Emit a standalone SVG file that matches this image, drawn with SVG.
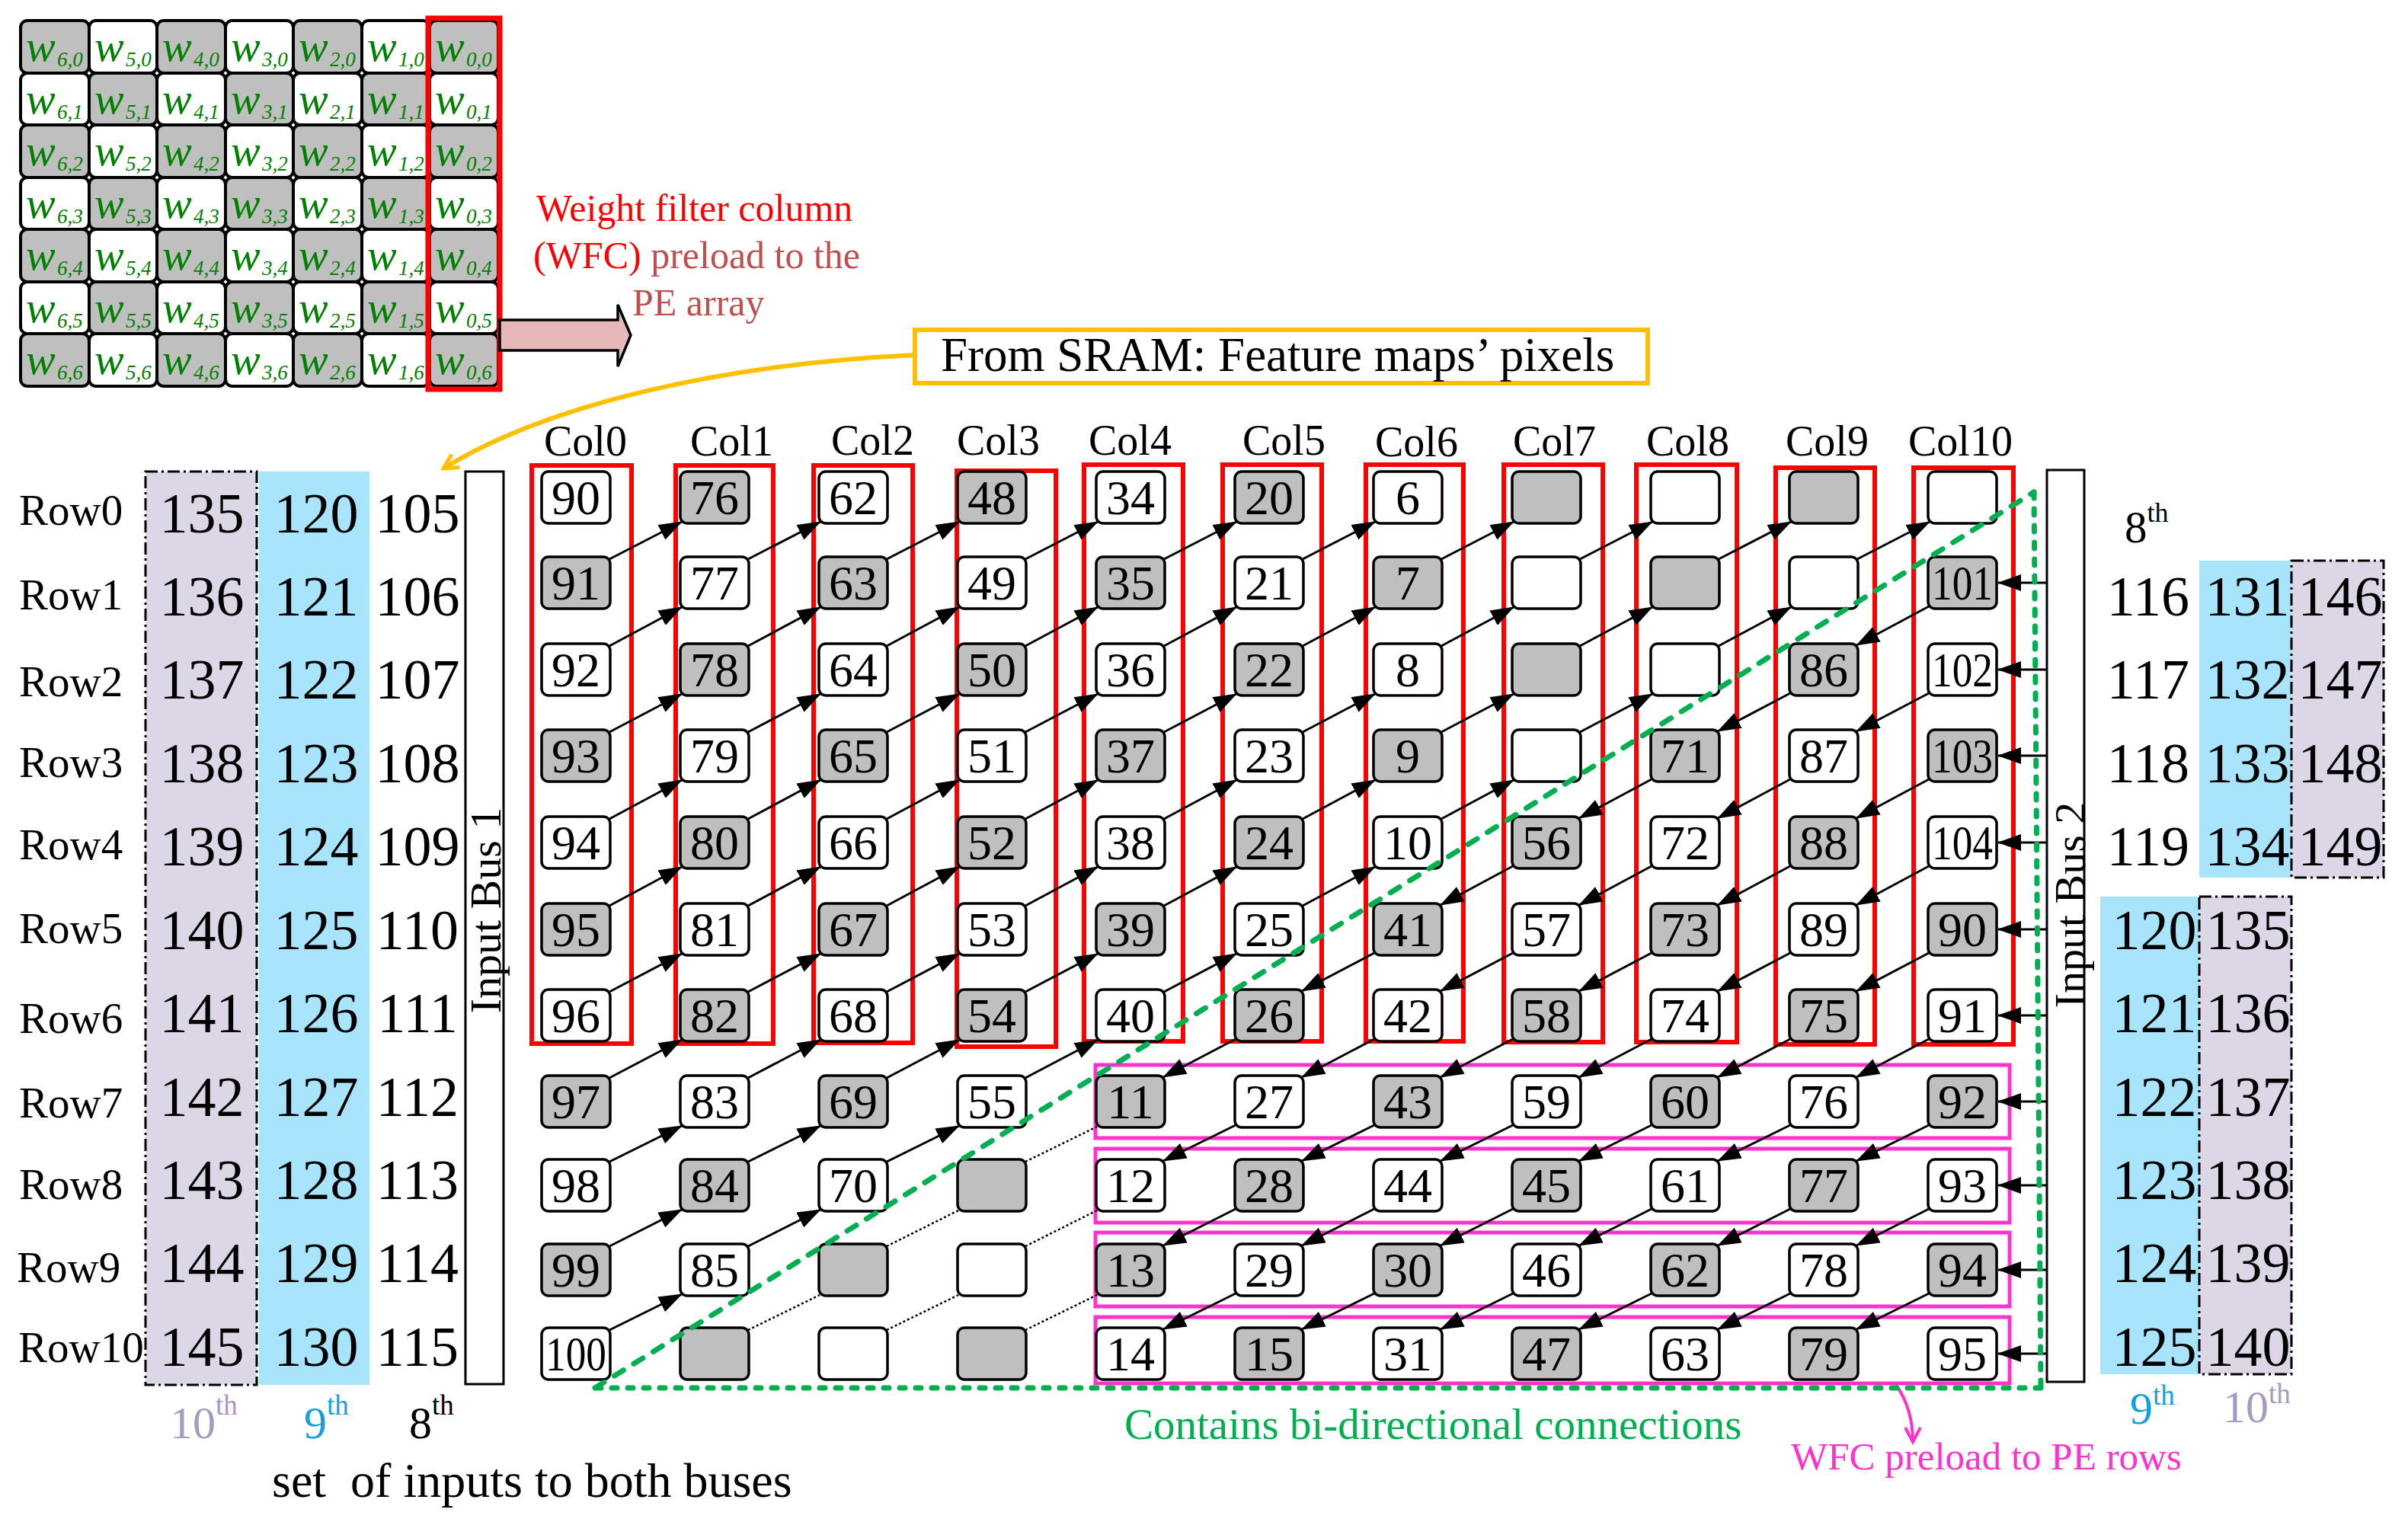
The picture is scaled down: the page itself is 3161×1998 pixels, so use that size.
<svg xmlns="http://www.w3.org/2000/svg" width="3161" height="1998" viewBox="0 0 3161 1998">
<style>
text{font-family:"Liberation Serif","Times New Roman",serif}
.mc{stroke:#000;stroke-width:4}
.mg{fill:#BFBFBF}
.mw{fill:#fff}
.wt{font-style:italic;font-size:58px;fill:#008000}
.sb{font-size:27px}
.w{fill:#fff;stroke:#000;stroke-width:3.5}
.g{fill:#BFBFBF;stroke:#000;stroke-width:3.5}
.pe text{font-size:64px;text-anchor:middle}
.red{fill:none;stroke:#FF0000;stroke-width:6}
.pink{fill:none;stroke:#FF33CC;stroke-width:5}
.ar{stroke:#000;stroke-width:3;marker-end:url(#ah)}
.dt{stroke:#000;stroke-width:2.5;stroke-dasharray:3 3}
.lbl{font-size:57px}
.big{font-size:74px;text-anchor:middle}
.lav{fill:#DCD6E6;stroke:#000;stroke-width:3;stroke-dasharray:16 5 3 5}
.blu{fill:#A8E5FC}
.bus{fill:#fff;stroke:#000;stroke-width:3}
.gr{fill:none;stroke:#00B050;stroke-width:7;stroke-linecap:round}
</style>
<defs>
<marker id="ah" markerUnits="userSpaceOnUse" viewBox="0 0 31 22" markerWidth="31" markerHeight="22" refX="30" refY="11" orient="auto"><path d="M0,0 L31,11 L0,22 z" fill="#000"/></marker>
<marker id="ay" markerUnits="userSpaceOnUse" viewBox="0 0 26 26" markerWidth="26" markerHeight="26" refX="22" refY="13" orient="auto"><path d="M3,3 L22,13 L3,23" fill="none" stroke="#FFC000" stroke-width="5"/></marker>
<marker id="ap" markerUnits="userSpaceOnUse" viewBox="0 0 26 26" markerWidth="26" markerHeight="26" refX="22" refY="13" orient="auto"><path d="M3,3 L22,13 L3,23" fill="none" stroke="#FF33CC" stroke-width="4"/></marker>
</defs>
<rect width="3161" height="1998" fill="#fff"/>

<!-- Weight matrix -->
<g id="weight-matrix">
<g id="w60"><rect class="mc mg" x="27" y="27" width="90" height="69" rx="9"/><text class="wt" x="34" y="80">w<tspan class="sb" x="75" y="87">6,0</tspan></text></g>
<g id="w50"><rect class="mc mw" x="117" y="27" width="89" height="69" rx="9"/><text class="wt" x="124" y="80">w<tspan class="sb" x="165" y="87">5,0</tspan></text></g>
<g id="w40"><rect class="mc mg" x="206" y="27" width="90" height="69" rx="9"/><text class="wt" x="213" y="80">w<tspan class="sb" x="254" y="87">4,0</tspan></text></g>
<g id="w30"><rect class="mc mw" x="296" y="27" width="89" height="69" rx="9"/><text class="wt" x="303" y="80">w<tspan class="sb" x="344" y="87">3,0</tspan></text></g>
<g id="w20"><rect class="mc mg" x="385" y="27" width="90" height="69" rx="9"/><text class="wt" x="392" y="80">w<tspan class="sb" x="433" y="87">2,0</tspan></text></g>
<g id="w10"><rect class="mc mw" x="475" y="27" width="89" height="69" rx="9"/><text class="wt" x="482" y="80">w<tspan class="sb" x="523" y="87">1,0</tspan></text></g>
<g id="w00"><rect class="mc mg" x="564" y="27" width="90" height="69" rx="9"/><text class="wt" x="571" y="80">w<tspan class="sb" x="612" y="87">0,0</tspan></text></g>

<g id="w61"><rect class="mc mw" x="27" y="96" width="90" height="68" rx="9"/><text class="wt" x="34" y="149">w<tspan class="sb" x="75" y="156">6,1</tspan></text></g>
<g id="w51"><rect class="mc mg" x="117" y="96" width="89" height="68" rx="9"/><text class="wt" x="124" y="149">w<tspan class="sb" x="165" y="156">5,1</tspan></text></g>
<g id="w41"><rect class="mc mw" x="206" y="96" width="90" height="68" rx="9"/><text class="wt" x="213" y="149">w<tspan class="sb" x="254" y="156">4,1</tspan></text></g>
<g id="w31"><rect class="mc mg" x="296" y="96" width="89" height="68" rx="9"/><text class="wt" x="303" y="149">w<tspan class="sb" x="344" y="156">3,1</tspan></text></g>
<g id="w21"><rect class="mc mw" x="385" y="96" width="90" height="68" rx="9"/><text class="wt" x="392" y="149">w<tspan class="sb" x="433" y="156">2,1</tspan></text></g>
<g id="w11"><rect class="mc mg" x="475" y="96" width="89" height="68" rx="9"/><text class="wt" x="482" y="149">w<tspan class="sb" x="523" y="156">1,1</tspan></text></g>
<g id="w01"><rect class="mc mw" x="564" y="96" width="90" height="68" rx="9"/><text class="wt" x="571" y="149">w<tspan class="sb" x="612" y="156">0,1</tspan></text></g>

<g id="w62"><rect class="mc mg" x="27" y="164" width="90" height="69" rx="9"/><text class="wt" x="34" y="217">w<tspan class="sb" x="75" y="224">6,2</tspan></text></g>
<g id="w52"><rect class="mc mw" x="117" y="164" width="89" height="69" rx="9"/><text class="wt" x="124" y="217">w<tspan class="sb" x="165" y="224">5,2</tspan></text></g>
<g id="w42"><rect class="mc mg" x="206" y="164" width="90" height="69" rx="9"/><text class="wt" x="213" y="217">w<tspan class="sb" x="254" y="224">4,2</tspan></text></g>
<g id="w32"><rect class="mc mw" x="296" y="164" width="89" height="69" rx="9"/><text class="wt" x="303" y="217">w<tspan class="sb" x="344" y="224">3,2</tspan></text></g>
<g id="w22"><rect class="mc mg" x="385" y="164" width="90" height="69" rx="9"/><text class="wt" x="392" y="217">w<tspan class="sb" x="433" y="224">2,2</tspan></text></g>
<g id="w12"><rect class="mc mw" x="475" y="164" width="89" height="69" rx="9"/><text class="wt" x="482" y="217">w<tspan class="sb" x="523" y="224">1,2</tspan></text></g>
<g id="w02"><rect class="mc mg" x="564" y="164" width="90" height="69" rx="9"/><text class="wt" x="571" y="217">w<tspan class="sb" x="612" y="224">0,2</tspan></text></g>

<g id="w63"><rect class="mc mw" x="27" y="233" width="90" height="68" rx="9"/><text class="wt" x="34" y="286">w<tspan class="sb" x="75" y="293">6,3</tspan></text></g>
<g id="w53"><rect class="mc mg" x="117" y="233" width="89" height="68" rx="9"/><text class="wt" x="124" y="286">w<tspan class="sb" x="165" y="293">5,3</tspan></text></g>
<g id="w43"><rect class="mc mw" x="206" y="233" width="90" height="68" rx="9"/><text class="wt" x="213" y="286">w<tspan class="sb" x="254" y="293">4,3</tspan></text></g>
<g id="w33"><rect class="mc mg" x="296" y="233" width="89" height="68" rx="9"/><text class="wt" x="303" y="286">w<tspan class="sb" x="344" y="293">3,3</tspan></text></g>
<g id="w23"><rect class="mc mw" x="385" y="233" width="90" height="68" rx="9"/><text class="wt" x="392" y="286">w<tspan class="sb" x="433" y="293">2,3</tspan></text></g>
<g id="w13"><rect class="mc mg" x="475" y="233" width="89" height="68" rx="9"/><text class="wt" x="482" y="286">w<tspan class="sb" x="523" y="293">1,3</tspan></text></g>
<g id="w03"><rect class="mc mw" x="564" y="233" width="90" height="68" rx="9"/><text class="wt" x="571" y="286">w<tspan class="sb" x="612" y="293">0,3</tspan></text></g>

<g id="w64"><rect class="mc mg" x="27" y="301" width="90" height="69" rx="9"/><text class="wt" x="34" y="354">w<tspan class="sb" x="75" y="361">6,4</tspan></text></g>
<g id="w54"><rect class="mc mw" x="117" y="301" width="89" height="69" rx="9"/><text class="wt" x="124" y="354">w<tspan class="sb" x="165" y="361">5,4</tspan></text></g>
<g id="w44"><rect class="mc mg" x="206" y="301" width="90" height="69" rx="9"/><text class="wt" x="213" y="354">w<tspan class="sb" x="254" y="361">4,4</tspan></text></g>
<g id="w34"><rect class="mc mw" x="296" y="301" width="89" height="69" rx="9"/><text class="wt" x="303" y="354">w<tspan class="sb" x="344" y="361">3,4</tspan></text></g>
<g id="w24"><rect class="mc mg" x="385" y="301" width="90" height="69" rx="9"/><text class="wt" x="392" y="354">w<tspan class="sb" x="433" y="361">2,4</tspan></text></g>
<g id="w14"><rect class="mc mw" x="475" y="301" width="89" height="69" rx="9"/><text class="wt" x="482" y="354">w<tspan class="sb" x="523" y="361">1,4</tspan></text></g>
<g id="w04"><rect class="mc mg" x="564" y="301" width="90" height="69" rx="9"/><text class="wt" x="571" y="354">w<tspan class="sb" x="612" y="361">0,4</tspan></text></g>

<g id="w65"><rect class="mc mw" x="27" y="370" width="90" height="68" rx="9"/><text class="wt" x="34" y="423">w<tspan class="sb" x="75" y="430">6,5</tspan></text></g>
<g id="w55"><rect class="mc mg" x="117" y="370" width="89" height="68" rx="9"/><text class="wt" x="124" y="423">w<tspan class="sb" x="165" y="430">5,5</tspan></text></g>
<g id="w45"><rect class="mc mw" x="206" y="370" width="90" height="68" rx="9"/><text class="wt" x="213" y="423">w<tspan class="sb" x="254" y="430">4,5</tspan></text></g>
<g id="w35"><rect class="mc mg" x="296" y="370" width="89" height="68" rx="9"/><text class="wt" x="303" y="423">w<tspan class="sb" x="344" y="430">3,5</tspan></text></g>
<g id="w25"><rect class="mc mw" x="385" y="370" width="90" height="68" rx="9"/><text class="wt" x="392" y="423">w<tspan class="sb" x="433" y="430">2,5</tspan></text></g>
<g id="w15"><rect class="mc mg" x="475" y="370" width="89" height="68" rx="9"/><text class="wt" x="482" y="423">w<tspan class="sb" x="523" y="430">1,5</tspan></text></g>
<g id="w05"><rect class="mc mw" x="564" y="370" width="90" height="68" rx="9"/><text class="wt" x="571" y="423">w<tspan class="sb" x="612" y="430">0,5</tspan></text></g>

<g id="w66"><rect class="mc mg" x="27" y="438" width="90" height="69" rx="9"/><text class="wt" x="34" y="491">w<tspan class="sb" x="75" y="498">6,6</tspan></text></g>
<g id="w56"><rect class="mc mw" x="117" y="438" width="89" height="69" rx="9"/><text class="wt" x="124" y="491">w<tspan class="sb" x="165" y="498">5,6</tspan></text></g>
<g id="w46"><rect class="mc mg" x="206" y="438" width="90" height="69" rx="9"/><text class="wt" x="213" y="491">w<tspan class="sb" x="254" y="498">4,6</tspan></text></g>
<g id="w36"><rect class="mc mw" x="296" y="438" width="89" height="69" rx="9"/><text class="wt" x="303" y="491">w<tspan class="sb" x="344" y="498">3,6</tspan></text></g>
<g id="w26"><rect class="mc mg" x="385" y="438" width="90" height="69" rx="9"/><text class="wt" x="392" y="491">w<tspan class="sb" x="433" y="498">2,6</tspan></text></g>
<g id="w16"><rect class="mc mw" x="475" y="438" width="89" height="69" rx="9"/><text class="wt" x="482" y="491">w<tspan class="sb" x="523" y="498">1,6</tspan></text></g>
<g id="w06"><rect class="mc mg" x="564" y="438" width="90" height="69" rx="9"/><text class="wt" x="571" y="491">w<tspan class="sb" x="612" y="498">0,6</tspan></text></g>
<rect id="wfc-highlight" x="562" y="24" width="94" height="487" fill="none" stroke="#FF0000" stroke-width="7"/>
</g>

<g id="wfc-arrow">
<polygon points="656,420 811,420 811,400 828,440 811,481 811,460 656,460" fill="#E6B9B8" stroke="#000" stroke-width="3.5"/>
</g>
<g id="wfc-label" font-size="50">
<text x="704" y="290" fill="#FF0000" font-size="50">Weight filter column</text>
<text x="700" y="352" font-size="50"><tspan fill="#FF0000">(WFC)</tspan><tspan fill="#C0504D"> preload to the</tspan></text>
<text x="830" y="414" fill="#C0504D" font-size="50">PE array</text>
</g>

<g id="sram">
<rect x="1201" y="433" width="962" height="70" fill="#fff" stroke="#FFC000" stroke-width="6"/>
<text x="1235" y="487" font-size="63">From SRAM: Feature maps’ pixels</text>
</g>

<!-- left input sets -->
<g id="left-sets">
<rect class="lav" x="191" y="619" width="146" height="1199"/>
<rect class="blu" x="340" y="619" width="145" height="1199"/>
<g class="big">
<text x="265" y="699">135</text><text x="415" y="699">120</text><text x="548" y="699">105</text>
<text x="265" y="808">136</text><text x="415" y="808">121</text><text x="548" y="808">106</text>
<text x="265" y="917">137</text><text x="415" y="917">122</text><text x="548" y="917">107</text>
<text x="265" y="1027">138</text><text x="415" y="1027">123</text><text x="548" y="1027">108</text>
<text x="265" y="1136">139</text><text x="415" y="1136">124</text><text x="548" y="1136">109</text>
<text x="265" y="1246">140</text><text x="415" y="1246">125</text><text x="548" y="1246">110</text>
<text x="265" y="1355">141</text><text x="415" y="1355">126</text><text x="548" y="1355">111</text>
<text x="265" y="1465">142</text><text x="415" y="1465">127</text><text x="548" y="1465">112</text>
<text x="265" y="1574">143</text><text x="415" y="1574">128</text><text x="548" y="1574">113</text>
<text x="265" y="1683">144</text><text x="415" y="1683">129</text><text x="548" y="1683">114</text>
<text x="265" y="1793">145</text><text x="415" y="1793">130</text><text x="548" y="1793">115</text>
</g>
<text x="223" y="1888" font-size="60" fill="#A59AC2">10<tspan font-size="37" y="1857">th</tspan></text>
<text x="399" y="1888" font-size="60" fill="#15A0DB">9<tspan font-size="37" y="1857">th</tspan></text>
<text x="537" y="1888" font-size="60">8<tspan font-size="37" y="1857">th</tspan></text>
<text x="357" y="1965" font-size="64" xml:space="preserve">set  of inputs to both buses</text>
</g>

<g id="row-labels" class="lbl">
<text x="25" y="689">Row0</text><text x="25" y="800">Row1</text><text x="25" y="914">Row2</text>
<text x="25" y="1020">Row3</text><text x="25" y="1128">Row4</text><text x="25" y="1238">Row5</text>
<text x="25" y="1356">Row6</text><text x="25" y="1467">Row7</text><text x="25" y="1574">Row8</text>
<text x="22" y="1683">Row9</text><text x="24" y="1788">Row10</text>
</g>

<g id="col-labels" font-size="56">
<text x="714" y="598">Col0</text><text x="906" y="598">Col1</text><text x="1091" y="597">Col2</text>
<text x="1256" y="597">Col3</text><text x="1429" y="597">Col4</text><text x="1631" y="597">Col5</text>
<text x="1805" y="599">Col6</text><text x="1986" y="598">Col7</text><text x="2161" y="598">Col8</text>
<text x="2344" y="598">Col9</text><text x="2505" y="598">Col10</text>
</g>

<!-- right input sets -->
<g id="right-sets">
<text x="2789" y="712" font-size="59">8<tspan font-size="36" y="685">th</tspan></text>
<rect class="blu" x="2887" y="736" width="121" height="416"/>
<rect class="lav" x="3008" y="736" width="121" height="416"/>
<rect class="blu" x="2757" y="1177" width="130" height="627"/>
<rect class="lav" x="2887" y="1177" width="121" height="627"/>
<g class="big">
<text x="2820" y="808">116</text><text x="2950" y="808">131</text><text x="3072" y="808">146</text>
<text x="2820" y="917">117</text><text x="2950" y="917">132</text><text x="3072" y="917">147</text>
<text x="2820" y="1027">118</text><text x="2950" y="1027">133</text><text x="3072" y="1027">148</text>
<text x="2820" y="1136">119</text><text x="2950" y="1136">134</text><text x="3072" y="1136">149</text>
<text x="2828" y="1246">120</text><text x="2951" y="1246">135</text>
<text x="2828" y="1355">121</text><text x="2951" y="1355">136</text>
<text x="2828" y="1465">122</text><text x="2951" y="1465">137</text>
<text x="2828" y="1574">123</text><text x="2951" y="1574">138</text>
<text x="2828" y="1683">124</text><text x="2951" y="1683">139</text>
<text x="2828" y="1793">125</text><text x="2951" y="1793">140</text>
</g>
<text x="2796" y="1869" font-size="60" fill="#15A0DB">9<tspan font-size="37" y="1844">th</tspan></text>
<text x="2918" y="1867" font-size="60" fill="#A59AC2">10<tspan font-size="37" y="1842">th</tspan></text>
</g>

<g id="bus1"><rect class="bus" x="611" y="619" width="50" height="1198"/><text transform="translate(657,1195) rotate(-90)" text-anchor="middle" font-size="58">Input Bus 1</text></g>
<g id="bus2"><rect class="bus" x="2687" y="617" width="49" height="1197"/><text transform="translate(2737,1188) rotate(-90)" text-anchor="middle" font-size="58">Input Bus 2</text></g>

<!-- column and row highlight frames -->
<g id="wfc-columns">
<rect class="red" x="698" y="611" width="131" height="759"/>
<rect class="red" x="887" y="611" width="128" height="759"/>
<rect class="red" x="1068" y="611" width="130" height="758"/>
<rect class="red" x="1256" y="618" width="130" height="756"/>
<rect class="red" x="1423" y="610" width="130" height="757"/>
<rect class="red" x="1605" y="610" width="130" height="757"/>
<rect class="red" x="1793" y="610" width="128" height="757"/>
<rect class="red" x="1974" y="610" width="130" height="758"/>
<rect class="red" x="2148" y="610" width="132" height="758"/>
<rect class="red" x="2331" y="614" width="130" height="757"/>
<rect class="red" x="2512" y="614" width="131" height="757"/>
</g>
<g id="wfc-rows">
<rect class="pink" x="1438" y="1398" width="1200" height="96"/>
<rect class="pink" x="1438" y="1508" width="1200" height="97"/>
<rect class="pink" x="1438" y="1618" width="1200" height="97"/>
<rect class="pink" x="1438" y="1729" width="1200" height="87"/>
</g>

<!-- PE nodes -->
<g id="pe-array" class="pe">
<g id="pe-r0c0"><rect class="w" x="711" y="619" width="90" height="68" rx="9"/><text x="756" y="675">90</text></g>
<g id="pe-r1c0"><rect class="g" x="711" y="731" width="90" height="68" rx="9"/><text x="756" y="787">91</text></g>
<g id="pe-r2c0"><rect class="w" x="711" y="845" width="90" height="68" rx="9"/><text x="756" y="901">92</text></g>
<g id="pe-r3c0"><rect class="g" x="711" y="958" width="90" height="68" rx="9"/><text x="756" y="1014">93</text></g>
<g id="pe-r4c0"><rect class="w" x="711" y="1072" width="90" height="68" rx="9"/><text x="756" y="1128">94</text></g>
<g id="pe-r5c0"><rect class="g" x="711" y="1186" width="90" height="68" rx="9"/><text x="756" y="1242">95</text></g>
<g id="pe-r6c0"><rect class="w" x="711" y="1299" width="90" height="68" rx="9"/><text x="756" y="1355">96</text></g>
<g id="pe-r7c0"><rect class="g" x="711" y="1412" width="90" height="68" rx="9"/><text x="756" y="1468">97</text></g>
<g id="pe-r8c0"><rect class="w" x="711" y="1522" width="90" height="68" rx="9"/><text x="756" y="1578">98</text></g>
<g id="pe-r9c0"><rect class="g" x="711" y="1633" width="90" height="68" rx="9"/><text x="756" y="1689">99</text></g>
<g id="pe-r10c0"><rect class="w" x="711" y="1743" width="90" height="68" rx="9"/><text x="756" y="1799" textLength="80" lengthAdjust="spacingAndGlyphs">100</text></g>

<g id="pe-r0c1"><rect class="g" x="893" y="619" width="90" height="68" rx="9"/><text x="938" y="675">76</text></g>
<g id="pe-r1c1"><rect class="w" x="893" y="731" width="90" height="68" rx="9"/><text x="938" y="787">77</text></g>
<g id="pe-r2c1"><rect class="g" x="893" y="845" width="90" height="68" rx="9"/><text x="938" y="901">78</text></g>
<g id="pe-r3c1"><rect class="w" x="893" y="958" width="90" height="68" rx="9"/><text x="938" y="1014">79</text></g>
<g id="pe-r4c1"><rect class="g" x="893" y="1072" width="90" height="68" rx="9"/><text x="938" y="1128">80</text></g>
<g id="pe-r5c1"><rect class="w" x="893" y="1186" width="90" height="68" rx="9"/><text x="938" y="1242">81</text></g>
<g id="pe-r6c1"><rect class="g" x="893" y="1299" width="90" height="68" rx="9"/><text x="938" y="1355">82</text></g>
<g id="pe-r7c1"><rect class="w" x="893" y="1412" width="90" height="68" rx="9"/><text x="938" y="1468">83</text></g>
<g id="pe-r8c1"><rect class="g" x="893" y="1522" width="90" height="68" rx="9"/><text x="938" y="1578">84</text></g>
<g id="pe-r9c1"><rect class="w" x="893" y="1633" width="90" height="68" rx="9"/><text x="938" y="1689">85</text></g>
<g id="pe-r10c1"><rect class="g" x="893" y="1743" width="90" height="68" rx="9"/></g>

<g id="pe-r0c2"><rect class="w" x="1075" y="619" width="90" height="68" rx="9"/><text x="1120" y="675">62</text></g>
<g id="pe-r1c2"><rect class="g" x="1075" y="731" width="90" height="68" rx="9"/><text x="1120" y="787">63</text></g>
<g id="pe-r2c2"><rect class="w" x="1075" y="845" width="90" height="68" rx="9"/><text x="1120" y="901">64</text></g>
<g id="pe-r3c2"><rect class="g" x="1075" y="958" width="90" height="68" rx="9"/><text x="1120" y="1014">65</text></g>
<g id="pe-r4c2"><rect class="w" x="1075" y="1072" width="90" height="68" rx="9"/><text x="1120" y="1128">66</text></g>
<g id="pe-r5c2"><rect class="g" x="1075" y="1186" width="90" height="68" rx="9"/><text x="1120" y="1242">67</text></g>
<g id="pe-r6c2"><rect class="w" x="1075" y="1299" width="90" height="68" rx="9"/><text x="1120" y="1355">68</text></g>
<g id="pe-r7c2"><rect class="g" x="1075" y="1412" width="90" height="68" rx="9"/><text x="1120" y="1468">69</text></g>
<g id="pe-r8c2"><rect class="w" x="1075" y="1522" width="90" height="68" rx="9"/><text x="1120" y="1578">70</text></g>
<g id="pe-r9c2"><rect class="g" x="1075" y="1633" width="90" height="68" rx="9"/></g>
<g id="pe-r10c2"><rect class="w" x="1075" y="1743" width="90" height="68" rx="9"/></g>

<g id="pe-r0c3"><rect class="g" x="1257" y="619" width="90" height="68" rx="9"/><text x="1302" y="675">48</text></g>
<g id="pe-r1c3"><rect class="w" x="1257" y="731" width="90" height="68" rx="9"/><text x="1302" y="787">49</text></g>
<g id="pe-r2c3"><rect class="g" x="1257" y="845" width="90" height="68" rx="9"/><text x="1302" y="901">50</text></g>
<g id="pe-r3c3"><rect class="w" x="1257" y="958" width="90" height="68" rx="9"/><text x="1302" y="1014">51</text></g>
<g id="pe-r4c3"><rect class="g" x="1257" y="1072" width="90" height="68" rx="9"/><text x="1302" y="1128">52</text></g>
<g id="pe-r5c3"><rect class="w" x="1257" y="1186" width="90" height="68" rx="9"/><text x="1302" y="1242">53</text></g>
<g id="pe-r6c3"><rect class="g" x="1257" y="1299" width="90" height="68" rx="9"/><text x="1302" y="1355">54</text></g>
<g id="pe-r7c3"><rect class="w" x="1257" y="1412" width="90" height="68" rx="9"/><text x="1302" y="1468">55</text></g>
<g id="pe-r8c3"><rect class="g" x="1257" y="1522" width="90" height="68" rx="9"/></g>
<g id="pe-r9c3"><rect class="w" x="1257" y="1633" width="90" height="68" rx="9"/></g>
<g id="pe-r10c3"><rect class="g" x="1257" y="1743" width="90" height="68" rx="9"/></g>

<g id="pe-r0c4"><rect class="w" x="1439" y="619" width="90" height="68" rx="9"/><text x="1484" y="675">34</text></g>
<g id="pe-r1c4"><rect class="g" x="1439" y="731" width="90" height="68" rx="9"/><text x="1484" y="787">35</text></g>
<g id="pe-r2c4"><rect class="w" x="1439" y="845" width="90" height="68" rx="9"/><text x="1484" y="901">36</text></g>
<g id="pe-r3c4"><rect class="g" x="1439" y="958" width="90" height="68" rx="9"/><text x="1484" y="1014">37</text></g>
<g id="pe-r4c4"><rect class="w" x="1439" y="1072" width="90" height="68" rx="9"/><text x="1484" y="1128">38</text></g>
<g id="pe-r5c4"><rect class="g" x="1439" y="1186" width="90" height="68" rx="9"/><text x="1484" y="1242">39</text></g>
<g id="pe-r6c4"><rect class="w" x="1439" y="1299" width="90" height="68" rx="9"/><text x="1484" y="1355">40</text></g>
<g id="pe-r7c4"><rect class="g" x="1439" y="1412" width="90" height="68" rx="9"/><text x="1484" y="1468">11</text></g>
<g id="pe-r8c4"><rect class="w" x="1439" y="1522" width="90" height="68" rx="9"/><text x="1484" y="1578">12</text></g>
<g id="pe-r9c4"><rect class="g" x="1439" y="1633" width="90" height="68" rx="9"/><text x="1484" y="1689">13</text></g>
<g id="pe-r10c4"><rect class="w" x="1439" y="1743" width="90" height="68" rx="9"/><text x="1484" y="1799">14</text></g>

<g id="pe-r0c5"><rect class="g" x="1621" y="619" width="90" height="68" rx="9"/><text x="1666" y="675">20</text></g>
<g id="pe-r1c5"><rect class="w" x="1621" y="731" width="90" height="68" rx="9"/><text x="1666" y="787">21</text></g>
<g id="pe-r2c5"><rect class="g" x="1621" y="845" width="90" height="68" rx="9"/><text x="1666" y="901">22</text></g>
<g id="pe-r3c5"><rect class="w" x="1621" y="958" width="90" height="68" rx="9"/><text x="1666" y="1014">23</text></g>
<g id="pe-r4c5"><rect class="g" x="1621" y="1072" width="90" height="68" rx="9"/><text x="1666" y="1128">24</text></g>
<g id="pe-r5c5"><rect class="w" x="1621" y="1186" width="90" height="68" rx="9"/><text x="1666" y="1242">25</text></g>
<g id="pe-r6c5"><rect class="g" x="1621" y="1299" width="90" height="68" rx="9"/><text x="1666" y="1355">26</text></g>
<g id="pe-r7c5"><rect class="w" x="1621" y="1412" width="90" height="68" rx="9"/><text x="1666" y="1468">27</text></g>
<g id="pe-r8c5"><rect class="g" x="1621" y="1522" width="90" height="68" rx="9"/><text x="1666" y="1578">28</text></g>
<g id="pe-r9c5"><rect class="w" x="1621" y="1633" width="90" height="68" rx="9"/><text x="1666" y="1689">29</text></g>
<g id="pe-r10c5"><rect class="g" x="1621" y="1743" width="90" height="68" rx="9"/><text x="1666" y="1799">15</text></g>

<g id="pe-r0c6"><rect class="w" x="1803" y="619" width="90" height="68" rx="9"/><text x="1848" y="675">6</text></g>
<g id="pe-r1c6"><rect class="g" x="1803" y="731" width="90" height="68" rx="9"/><text x="1848" y="787">7</text></g>
<g id="pe-r2c6"><rect class="w" x="1803" y="845" width="90" height="68" rx="9"/><text x="1848" y="901">8</text></g>
<g id="pe-r3c6"><rect class="g" x="1803" y="958" width="90" height="68" rx="9"/><text x="1848" y="1014">9</text></g>
<g id="pe-r4c6"><rect class="w" x="1803" y="1072" width="90" height="68" rx="9"/><text x="1848" y="1128">10</text></g>
<g id="pe-r5c6"><rect class="g" x="1803" y="1186" width="90" height="68" rx="9"/><text x="1848" y="1242">41</text></g>
<g id="pe-r6c6"><rect class="w" x="1803" y="1299" width="90" height="68" rx="9"/><text x="1848" y="1355">42</text></g>
<g id="pe-r7c6"><rect class="g" x="1803" y="1412" width="90" height="68" rx="9"/><text x="1848" y="1468">43</text></g>
<g id="pe-r8c6"><rect class="w" x="1803" y="1522" width="90" height="68" rx="9"/><text x="1848" y="1578">44</text></g>
<g id="pe-r9c6"><rect class="g" x="1803" y="1633" width="90" height="68" rx="9"/><text x="1848" y="1689">30</text></g>
<g id="pe-r10c6"><rect class="w" x="1803" y="1743" width="90" height="68" rx="9"/><text x="1848" y="1799">31</text></g>

<g id="pe-r0c7"><rect class="g" x="1985" y="619" width="90" height="68" rx="9"/></g>
<g id="pe-r1c7"><rect class="w" x="1985" y="731" width="90" height="68" rx="9"/></g>
<g id="pe-r2c7"><rect class="g" x="1985" y="845" width="90" height="68" rx="9"/></g>
<g id="pe-r3c7"><rect class="w" x="1985" y="958" width="90" height="68" rx="9"/></g>
<g id="pe-r4c7"><rect class="g" x="1985" y="1072" width="90" height="68" rx="9"/><text x="2030" y="1128">56</text></g>
<g id="pe-r5c7"><rect class="w" x="1985" y="1186" width="90" height="68" rx="9"/><text x="2030" y="1242">57</text></g>
<g id="pe-r6c7"><rect class="g" x="1985" y="1299" width="90" height="68" rx="9"/><text x="2030" y="1355">58</text></g>
<g id="pe-r7c7"><rect class="w" x="1985" y="1412" width="90" height="68" rx="9"/><text x="2030" y="1468">59</text></g>
<g id="pe-r8c7"><rect class="g" x="1985" y="1522" width="90" height="68" rx="9"/><text x="2030" y="1578">45</text></g>
<g id="pe-r9c7"><rect class="w" x="1985" y="1633" width="90" height="68" rx="9"/><text x="2030" y="1689">46</text></g>
<g id="pe-r10c7"><rect class="g" x="1985" y="1743" width="90" height="68" rx="9"/><text x="2030" y="1799">47</text></g>

<g id="pe-r0c8"><rect class="w" x="2167" y="619" width="90" height="68" rx="9"/></g>
<g id="pe-r1c8"><rect class="g" x="2167" y="731" width="90" height="68" rx="9"/></g>
<g id="pe-r2c8"><rect class="w" x="2167" y="845" width="90" height="68" rx="9"/></g>
<g id="pe-r3c8"><rect class="g" x="2167" y="958" width="90" height="68" rx="9"/><text x="2212" y="1014">71</text></g>
<g id="pe-r4c8"><rect class="w" x="2167" y="1072" width="90" height="68" rx="9"/><text x="2212" y="1128">72</text></g>
<g id="pe-r5c8"><rect class="g" x="2167" y="1186" width="90" height="68" rx="9"/><text x="2212" y="1242">73</text></g>
<g id="pe-r6c8"><rect class="w" x="2167" y="1299" width="90" height="68" rx="9"/><text x="2212" y="1355">74</text></g>
<g id="pe-r7c8"><rect class="g" x="2167" y="1412" width="90" height="68" rx="9"/><text x="2212" y="1468">60</text></g>
<g id="pe-r8c8"><rect class="w" x="2167" y="1522" width="90" height="68" rx="9"/><text x="2212" y="1578">61</text></g>
<g id="pe-r9c8"><rect class="g" x="2167" y="1633" width="90" height="68" rx="9"/><text x="2212" y="1689">62</text></g>
<g id="pe-r10c8"><rect class="w" x="2167" y="1743" width="90" height="68" rx="9"/><text x="2212" y="1799">63</text></g>

<g id="pe-r0c9"><rect class="g" x="2349" y="619" width="90" height="68" rx="9"/></g>
<g id="pe-r1c9"><rect class="w" x="2349" y="731" width="90" height="68" rx="9"/></g>
<g id="pe-r2c9"><rect class="g" x="2349" y="845" width="90" height="68" rx="9"/><text x="2394" y="901">86</text></g>
<g id="pe-r3c9"><rect class="w" x="2349" y="958" width="90" height="68" rx="9"/><text x="2394" y="1014">87</text></g>
<g id="pe-r4c9"><rect class="g" x="2349" y="1072" width="90" height="68" rx="9"/><text x="2394" y="1128">88</text></g>
<g id="pe-r5c9"><rect class="w" x="2349" y="1186" width="90" height="68" rx="9"/><text x="2394" y="1242">89</text></g>
<g id="pe-r6c9"><rect class="g" x="2349" y="1299" width="90" height="68" rx="9"/><text x="2394" y="1355">75</text></g>
<g id="pe-r7c9"><rect class="w" x="2349" y="1412" width="90" height="68" rx="9"/><text x="2394" y="1468">76</text></g>
<g id="pe-r8c9"><rect class="g" x="2349" y="1522" width="90" height="68" rx="9"/><text x="2394" y="1578">77</text></g>
<g id="pe-r9c9"><rect class="w" x="2349" y="1633" width="90" height="68" rx="9"/><text x="2394" y="1689">78</text></g>
<g id="pe-r10c9"><rect class="g" x="2349" y="1743" width="90" height="68" rx="9"/><text x="2394" y="1799">79</text></g>

<g id="pe-r0c10"><rect class="w" x="2531" y="619" width="90" height="68" rx="9"/></g>
<g id="pe-r1c10"><rect class="g" x="2531" y="731" width="90" height="68" rx="9"/><text x="2576" y="787" textLength="80" lengthAdjust="spacingAndGlyphs">101</text></g>
<g id="pe-r2c10"><rect class="w" x="2531" y="845" width="90" height="68" rx="9"/><text x="2576" y="901" textLength="80" lengthAdjust="spacingAndGlyphs">102</text></g>
<g id="pe-r3c10"><rect class="g" x="2531" y="958" width="90" height="68" rx="9"/><text x="2576" y="1014" textLength="80" lengthAdjust="spacingAndGlyphs">103</text></g>
<g id="pe-r4c10"><rect class="w" x="2531" y="1072" width="90" height="68" rx="9"/><text x="2576" y="1128" textLength="80" lengthAdjust="spacingAndGlyphs">104</text></g>
<g id="pe-r5c10"><rect class="g" x="2531" y="1186" width="90" height="68" rx="9"/><text x="2576" y="1242">90</text></g>
<g id="pe-r6c10"><rect class="w" x="2531" y="1299" width="90" height="68" rx="9"/><text x="2576" y="1355">91</text></g>
<g id="pe-r7c10"><rect class="g" x="2531" y="1412" width="90" height="68" rx="9"/><text x="2576" y="1468">92</text></g>
<g id="pe-r8c10"><rect class="w" x="2531" y="1522" width="90" height="68" rx="9"/><text x="2576" y="1578">93</text></g>
<g id="pe-r9c10"><rect class="g" x="2531" y="1633" width="90" height="68" rx="9"/><text x="2576" y="1689">94</text></g>
<g id="pe-r10c10"><rect class="w" x="2531" y="1743" width="90" height="68" rx="9"/><text x="2576" y="1799">95</text></g>
</g>

<!-- connectors -->
<g id="connectors">
<g id="up-right">
<line class="ar" x1="800" y1="734" x2="895" y2="685"/><line class="ar" x1="800" y1="848" x2="895" y2="797"/><line class="ar" x1="800" y1="961" x2="895" y2="911"/><line class="ar" x1="800" y1="1075" x2="895" y2="1024"/><line class="ar" x1="800" y1="1189" x2="895" y2="1138"/><line class="ar" x1="800" y1="1302" x2="895" y2="1252"/><line class="ar" x1="800" y1="1415" x2="895" y2="1365"/><line class="ar" x1="800" y1="1525" x2="895" y2="1478"/><line class="ar" x1="800" y1="1636" x2="895" y2="1588"/><line class="ar" x1="800" y1="1746" x2="895" y2="1699"/>
<line class="ar" x1="982" y1="734" x2="1077" y2="685"/><line class="ar" x1="982" y1="848" x2="1077" y2="797"/><line class="ar" x1="982" y1="961" x2="1077" y2="911"/><line class="ar" x1="982" y1="1075" x2="1077" y2="1024"/><line class="ar" x1="982" y1="1189" x2="1077" y2="1138"/><line class="ar" x1="982" y1="1302" x2="1077" y2="1252"/><line class="ar" x1="982" y1="1415" x2="1077" y2="1365"/><line class="ar" x1="982" y1="1525" x2="1077" y2="1478"/><line class="ar" x1="982" y1="1636" x2="1077" y2="1588"/>
<line class="ar" x1="1164" y1="734" x2="1259" y2="685"/><line class="ar" x1="1164" y1="848" x2="1259" y2="797"/><line class="ar" x1="1164" y1="961" x2="1259" y2="911"/><line class="ar" x1="1164" y1="1075" x2="1259" y2="1024"/><line class="ar" x1="1164" y1="1189" x2="1259" y2="1138"/><line class="ar" x1="1164" y1="1302" x2="1259" y2="1252"/><line class="ar" x1="1164" y1="1415" x2="1259" y2="1365"/><line class="ar" x1="1164" y1="1525" x2="1259" y2="1478"/>
<line class="ar" x1="1346" y1="734" x2="1441" y2="685"/><line class="ar" x1="1346" y1="848" x2="1441" y2="797"/><line class="ar" x1="1346" y1="961" x2="1441" y2="911"/><line class="ar" x1="1346" y1="1075" x2="1441" y2="1024"/><line class="ar" x1="1346" y1="1189" x2="1441" y2="1138"/><line class="ar" x1="1346" y1="1302" x2="1441" y2="1252"/><line class="ar" x1="1346" y1="1415" x2="1441" y2="1365"/>
<line class="ar" x1="1528" y1="734" x2="1623" y2="685"/><line class="ar" x1="1528" y1="848" x2="1623" y2="797"/><line class="ar" x1="1528" y1="961" x2="1623" y2="911"/><line class="ar" x1="1528" y1="1075" x2="1623" y2="1024"/><line class="ar" x1="1528" y1="1189" x2="1623" y2="1138"/><line class="ar" x1="1528" y1="1302" x2="1623" y2="1252"/>
<line class="ar" x1="1710" y1="734" x2="1805" y2="685"/><line class="ar" x1="1710" y1="848" x2="1805" y2="797"/><line class="ar" x1="1710" y1="961" x2="1805" y2="911"/><line class="ar" x1="1710" y1="1075" x2="1805" y2="1024"/><line class="ar" x1="1710" y1="1189" x2="1805" y2="1138"/>
<line class="ar" x1="1892" y1="734" x2="1987" y2="685"/><line class="ar" x1="1892" y1="848" x2="1987" y2="797"/><line class="ar" x1="1892" y1="961" x2="1987" y2="911"/><line class="ar" x1="1892" y1="1075" x2="1987" y2="1024"/>
<line class="ar" x1="2074" y1="734" x2="2169" y2="685"/><line class="ar" x1="2074" y1="848" x2="2169" y2="797"/><line class="ar" x1="2074" y1="961" x2="2169" y2="911"/>
<line class="ar" x1="2256" y1="734" x2="2351" y2="685"/><line class="ar" x1="2256" y1="848" x2="2351" y2="797"/>
<line class="ar" x1="2438" y1="734" x2="2533" y2="685"/>
</g>
<g id="dotted-links">
<line class="dt" x1="982" y1="1746" x2="1076" y2="1700"/>
<line class="dt" x1="1164" y1="1636" x2="1258" y2="1589"/><line class="dt" x1="1164" y1="1746" x2="1258" y2="1700"/>
<line class="dt" x1="1346" y1="1525" x2="1440" y2="1479"/><line class="dt" x1="1346" y1="1636" x2="1440" y2="1589"/><line class="dt" x1="1346" y1="1746" x2="1440" y2="1700"/>
</g>
<g id="down-left">
<line class="ar" x1="2532" y1="796" x2="2437" y2="847"/><line class="ar" x1="2532" y1="910" x2="2437" y2="960"/><line class="ar" x1="2532" y1="1023" x2="2437" y2="1074"/><line class="ar" x1="2532" y1="1137" x2="2437" y2="1188"/><line class="ar" x1="2532" y1="1251" x2="2437" y2="1301"/><line class="ar" x1="2532" y1="1364" x2="2437" y2="1414"/><line class="ar" x1="2532" y1="1477" x2="2437" y2="1524"/><line class="ar" x1="2532" y1="1587" x2="2437" y2="1635"/><line class="ar" x1="2532" y1="1698" x2="2437" y2="1745"/>
<line class="ar" x1="2350" y1="910" x2="2255" y2="960"/><line class="ar" x1="2350" y1="1023" x2="2255" y2="1074"/><line class="ar" x1="2350" y1="1137" x2="2255" y2="1188"/><line class="ar" x1="2350" y1="1251" x2="2255" y2="1301"/><line class="ar" x1="2350" y1="1364" x2="2255" y2="1414"/><line class="ar" x1="2350" y1="1477" x2="2255" y2="1524"/><line class="ar" x1="2350" y1="1587" x2="2255" y2="1635"/><line class="ar" x1="2350" y1="1698" x2="2255" y2="1745"/>
<line class="ar" x1="2168" y1="1023" x2="2073" y2="1074"/><line class="ar" x1="2168" y1="1137" x2="2073" y2="1188"/><line class="ar" x1="2168" y1="1251" x2="2073" y2="1301"/><line class="ar" x1="2168" y1="1364" x2="2073" y2="1414"/><line class="ar" x1="2168" y1="1477" x2="2073" y2="1524"/><line class="ar" x1="2168" y1="1587" x2="2073" y2="1635"/><line class="ar" x1="2168" y1="1698" x2="2073" y2="1745"/>
<line class="ar" x1="1986" y1="1137" x2="1891" y2="1188"/><line class="ar" x1="1986" y1="1251" x2="1891" y2="1301"/><line class="ar" x1="1986" y1="1364" x2="1891" y2="1414"/><line class="ar" x1="1986" y1="1477" x2="1891" y2="1524"/><line class="ar" x1="1986" y1="1587" x2="1891" y2="1635"/><line class="ar" x1="1986" y1="1698" x2="1891" y2="1745"/>
<line class="ar" x1="1804" y1="1251" x2="1709" y2="1301"/><line class="ar" x1="1804" y1="1364" x2="1709" y2="1414"/><line class="ar" x1="1804" y1="1477" x2="1709" y2="1524"/><line class="ar" x1="1804" y1="1587" x2="1709" y2="1635"/><line class="ar" x1="1804" y1="1698" x2="1709" y2="1745"/>
<line class="ar" x1="1622" y1="1364" x2="1527" y2="1414"/><line class="ar" x1="1622" y1="1477" x2="1527" y2="1524"/><line class="ar" x1="1622" y1="1587" x2="1527" y2="1635"/><line class="ar" x1="1622" y1="1698" x2="1527" y2="1745"/>
</g>
<g id="bus2-links">
<line class="ar" x1="2687" y1="765" x2="2623" y2="765"/><line class="ar" x1="2687" y1="879" x2="2623" y2="879"/><line class="ar" x1="2687" y1="992" x2="2623" y2="992"/><line class="ar" x1="2687" y1="1106" x2="2623" y2="1106"/><line class="ar" x1="2687" y1="1220" x2="2623" y2="1220"/><line class="ar" x1="2687" y1="1333" x2="2623" y2="1333"/><line class="ar" x1="2687" y1="1446" x2="2623" y2="1446"/><line class="ar" x1="2687" y1="1556" x2="2623" y2="1556"/><line class="ar" x1="2687" y1="1667" x2="2623" y2="1667"/><line class="ar" x1="2687" y1="1777" x2="2623" y2="1777"/>
</g>
<path id="sram-link" d="M1201,466 C950,478 720,530 582,615" fill="none" stroke="#FFC000" stroke-width="6" marker-end="url(#ay)"/>
<path id="wfc-row-link" d="M2489,1818 C2503,1838 2511,1862 2511,1893" fill="none" stroke="#FF33CC" stroke-width="4" marker-end="url(#ap)"/>
</g>

<g id="bidirectional-region">
<line class="gr" x1="781" y1="1822" x2="2670" y2="646" stroke-dasharray="14 16"/>
<line class="gr" x1="2670" y1="646" x2="2679" y2="1822" stroke-dasharray="8 14"/>
<line class="gr" x1="2679" y1="1822" x2="781" y2="1822" stroke-width="8" stroke-dasharray="7 14"/>
<text x="1476" y="1889" font-size="57" fill="#00B050">Contains bi-directional connections</text>
</g>
<text id="wfc-row-label" x="2351" y="1929" font-size="51" fill="#FF33CC">WFC preload to PE rows</text>
</svg>
